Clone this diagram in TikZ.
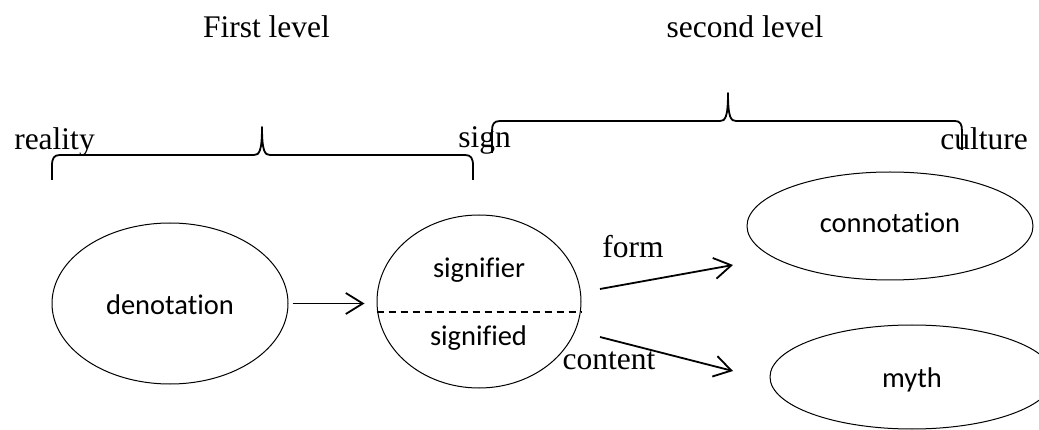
\documentclass[tikz,border=0pt]{standalone}
\usepackage{fontspec}
\setmainfont{Liberation Serif}
\newfontfamily\calib[RawFeature={-liga;-clig;-dlig}]{Carlito}
\usetikzlibrary{shapes.geometric,arrows.meta}
\tikzset{
  ell/.style={draw, ellipse, line width=1pt, inner sep=0pt},
  serlab/.style={inner sep=0pt, anchor=base, font=\fontsize{31.5}{36}\selectfont},
  sanlab/.style={inner sep=0pt, anchor=base, font=\calib\fontsize{28.5}{32}\selectfont},
  arr/.style={line width=1.8pt, -{Straight Barb[length=17pt,width=21pt,line width=1.8pt]}},
  bracel/.style={line width=1.8pt, line join=round},
  divider/.style={line width=1.8pt, dash pattern=on 7pt off 5pt}
}
\begin{document}
\begin{tikzpicture}[x=1pt,y=-1pt]
\useasboundingbox (0,0) rectangle (1039,430);
% level titles
\node[serlab] (first) at (266.5,38) {First level};
\node[serlab] (second) at (745,38) {second level};
\node[serlab] (reality) at (54.5,150) {reality};
\node[serlab] (signw) at (484.5,148) {sign};
\node[serlab] (culture) at (984,150) {culture};
% braces
\draw[bracel] (52,180) -- (52,166) .. controls (52,158) and (54,155) .. (60,155)
  -- (254,155) .. controls (259,155) and (262,152) .. (262,127)
  .. controls (262,152) and (265,155) .. (270,155)
  -- (465,155) .. controls (471,155) and (473,158) .. (473,166) -- (473,180);
\draw[bracel] (492,153) -- (492,131) .. controls (492,124) and (494,121) .. (500,121)
  -- (720,121) .. controls (725,121) and (728,118) .. (728,93)
  .. controls (728,118) and (731,121) .. (736,121)
  -- (955,121) .. controls (960,121) and (962,124) .. (962,131) -- (962,150);
% ellipses
\node[ell, minimum width=236pt, minimum height=161pt] (den) at (170,303.5) {};
\node[ell, minimum width=204pt, minimum height=173pt] (sign) at (479,301.5) {};
\node[ell, minimum width=286pt, minimum height=108pt] (conn) at (890,226) {};
\node[ell, minimum width=284pt, minimum height=104pt] (myth) at (912,377) {};
% texts
\node[sanlab] (dentext) at (170,315) {denotation};
\node[sanlab] (sfier) at (479,278) {signifier};
\node[sanlab] (sfied) at (478.5,345) {signified};
\node[sanlab] (conntext) at (890,233) {connotation};
\node[sanlab] (mythtext) at (912,388) {myth};
\node[serlab] (formlab) at (633,258) {form};
\node[serlab] (contlab) at (609,370) {content};
% divider
\draw[divider] (sign.west |- 0,312) coordinate (dl) -- (sign.east |- 0,312) coordinate (dr);
% arrows
\draw[arr, shorten <=4pt, shorten >=12pt] (den.east) -- (den.east -| sign.west);
\coordinate (fs) at (600,289);
\coordinate (fe) at (733,265);
\coordinate (cs) at (600,337);
\coordinate (ce) at (733,371);
\draw[arr] (fs) -- (fe);
\draw[arr] (cs) -- (ce);
\end{tikzpicture}
\end{document}
